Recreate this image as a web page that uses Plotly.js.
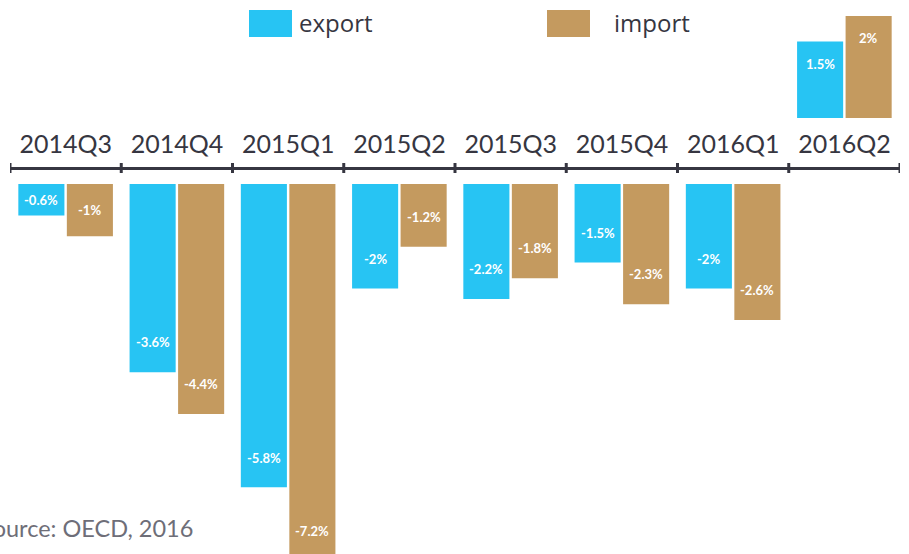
<!DOCTYPE html>
<html><head><meta charset="utf-8">
<script src="https://cdn.plot.ly/plotly-3.0.1.min.js"></script>
<style>html,body{margin:0;padding:0;background:#fff;overflow:hidden}</style>
</head><body><div id="chart" style="width:909px;height:554px"></div>
<script>
const categories = ['2014Q3','2014Q4','2015Q1','2015Q2','2015Q3','2015Q4','2016Q1','2016Q2'];
const exportValues = [-0.6, -3.6, -5.8, -2, -2.2, -1.5, -2, 1.5];
const importValues = [-1, -4.4, -7.2, -1.2, -1.8, -2.3, -2.6, 2];
const seriesNames = ['export', 'import'];
const sourceNote = 'Source: OECD, 2016';

const BLUE = '#27c4f3';
const BROWN = '#c49a5f';
const DARK = '#363641';

const W = 909, H = 554, ML = 10, MR = 9;
const px = x => (x - ML) / (W - ML - MR);
const py = y => (H - y) / H;

const pos = a => a.map(v => v > 0 ? v : null);
const neg = a => a.map(v => v < 0 ? v : null);

const series = [
  {name: seriesNames[0], vals: exportValues, color: BLUE, off: -0.218},
  {name: seriesNames[1], vals: importValues, color: BROWN, off: 0.218}
];

const traces = [];
series.forEach(s => {
  traces.push({type:'bar', name:s.name, x:categories, y:pos(s.vals), xaxis:'x', yaxis:'y',
    marker:{color:s.color}, hoverinfo:'skip', showlegend:false});
});
series.forEach(s => {
  traces.push({type:'bar', name:s.name, x:categories, y:neg(s.vals), xaxis:'x2', yaxis:'y2',
    marker:{color:s.color}, hoverinfo:'skip', showlegend:false});
});

const annotations = [];
series.forEach(s => {
  s.vals.forEach((v, i) => {
    const top = v > 0;
    const ly = top ? Math.max(v - 0.44, v / 2) : Math.min(v + 0.57, v / 2);
    annotations.push({
      x: i + s.off, y: ly, xref: 'x', yref: top ? 'y' : 'y2',
      text: v + '%', showarrow: false,
      font: {family: 'Lato', size: 13, color: '#ffffff', weight: 700}
    });
  });
});

// legend
const shapes = [];
[[249, 292, BLUE, 297, seriesNames[0]], [547, 590, BROWN, 612, seriesNames[1]]].forEach(l => {
  shapes.push({type:'rect', xref:'paper', yref:'paper', x0:px(l[0]), x1:px(l[1]), y0:py(37), y1:py(10),
    fillcolor:l[2], line:{width:0}});
  annotations.push({xref:'paper', yref:'paper', x:px(l[3]), y:py(22), xanchor:'left', yanchor:'middle',
    text:l[4], showarrow:false, font:{family:'Open Sans', size:24, color:DARK}});
});

// category boundary ticks crossing the axis line
for (let i = 0; i <= categories.length; i++) {
  shapes.push({type:'line', xref:'x', yref:'paper', x0:i - 0.5, x1:i - 0.5, y0:py(173), y1:py(163),
    line:{color:DARK, width:3}});
}

annotations.push({xref:'paper', yref:'paper', x:px(195), y:py(528), xanchor:'right', yanchor:'middle',
  text:sourceNote, showarrow:false, font:{family:'Lato', size:23.5, color:'#6e6e78'}});

const layout = {
  width: W, height: H,
  margin: {l: ML, r: MR, t: 0, b: 0, pad: 0},
  paper_bgcolor: '#ffffff', plot_bgcolor: 'rgba(0,0,0,0)',
  barmode: 'group', bargap: 0.128, bargroupgap: 0.05,
  showlegend: false,
  xaxis: {domain:[0,1], range:[-0.5, 7.5], type:'category', anchor:'free', position: py(168), side:'top',
    showline:true, linecolor:DARK, linewidth:3, ticks:'', showgrid:false, zeroline:false,
    tickfont:{family:'Lato', size:25, color:DARK}, ticklabelstandoff: 4, fixedrange:true},
  xaxis2: {domain:[0,1], range:[-0.5, 7.5], type:'category', anchor:'y2', visible:false, fixedrange:true},
  yaxis: {domain:[py(118), py(8)], range:[0, (118 - 8) / 51], anchor:'x', visible:false, fixedrange:true},
  yaxis2: {domain:[0, py(184)], range:[-(554 - 184) / 52.3, 0], anchor:'x2', visible:false, fixedrange:true},
  shapes: shapes,
  annotations: annotations
};

Plotly.newPlot('chart', traces, layout, {displayModeBar:false, staticPlot:true});
</script></body></html>
